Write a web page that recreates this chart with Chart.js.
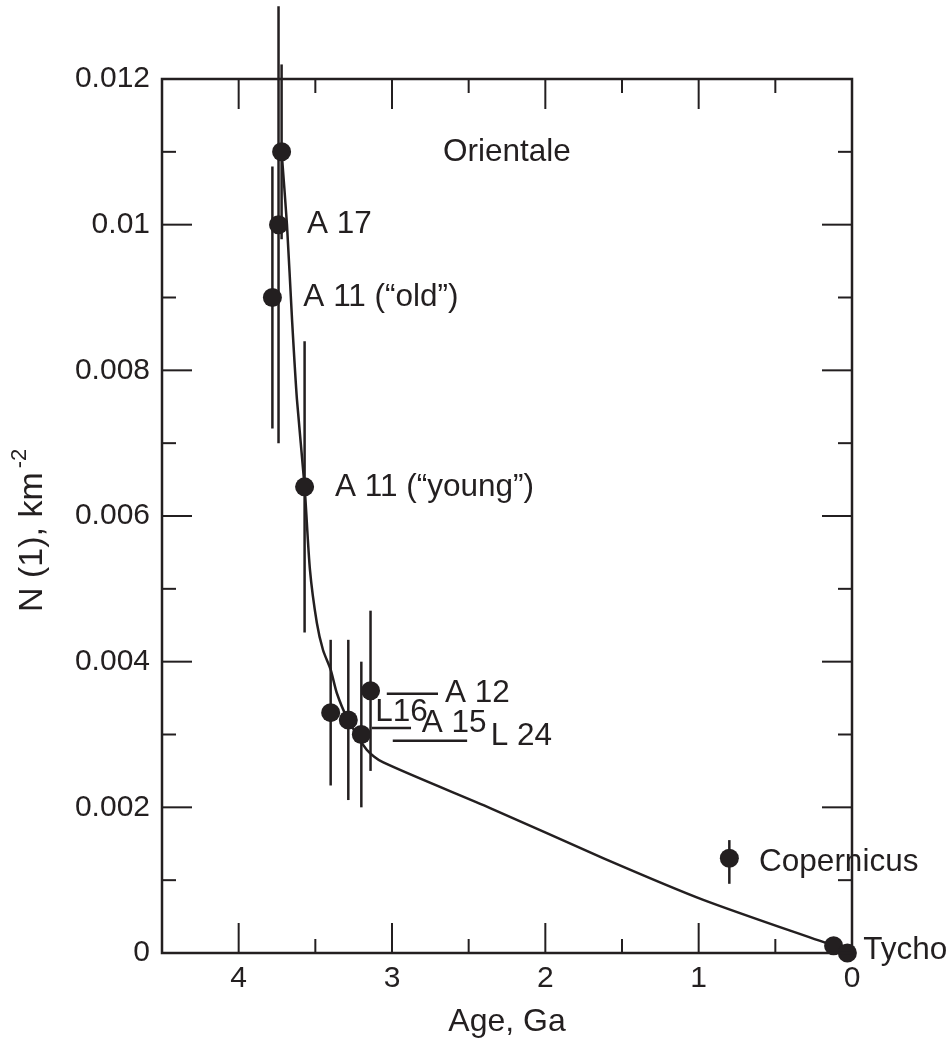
<!DOCTYPE html>
<html>
<head>
<meta charset="utf-8">
<title>N(1) vs age</title>
<script src="https://cdn.jsdelivr.net/npm/chart.js@4.4.1/dist/chart.umd.min.js"></script>
<style>
  html, body { margin: 0; padding: 0; background: #fff; }
</style>
</head>
<body>
<canvas id="chart" width="948" height="1041"></canvas>
<script>
// dated surfaces: age (Ga) and crater density N(1) with error range
const siteAges = [3.72, 3.74, 3.78, 3.57, 3.40, 3.285, 3.20, 3.14, 0.80, 0.12, 0.03];
const siteN = [0.011, 0.010, 0.009, 0.0064, 0.0033, 0.0032, 0.0030, 0.0036, 0.0013, 0.0001, 0];
const errLow = [0.0098, 0.0070, 0.0072, 0.0044, 0.0023, 0.0021, 0.0020, 0.0025, 0.00095, null, null];
const errHigh = [0.0122, 0.0130, 0.0108, 0.0084, 0.0043, 0.0043, 0.0040, 0.0047, 0.00155, null, null];

// fitted chronology curve
const curveAges = [3.72, 3.685, 3.652, 3.62, 3.57, 3.535, 3.49, 3.45, 3.40, 3.36, 3.295, 3.165, 3.06, 2.36, 1.62, 0.97, 0.12];
const curveN = [0.011, 0.0100, 0.0087, 0.0076, 0.0064, 0.00526, 0.00453, 0.00416, 0.00389, 0.00357, 0.00324, 0.00279, 0.00262, 0.00199, 0.00130, 0.00073, 0.0001];

// labels and leader lines
const labelText = ['Orientale', 'A 17', 'A 11 (\u201cold\u201d)', 'A 11 (\u201cyoung\u201d)', 'A 12', 'L16', 'A 15', 'L 24', 'Copernicus', 'Tycho'];
const labelAge = [2.667, 3.554, 3.578, 3.372, 2.654, 3.11, 2.806, 2.356, 0.606, -0.073];
const labelN = [0.011, 0.010, 0.009, 0.0064, 0.00357, 0.0033, 0.00316, 0.00297, 0.00125, 0.00004];
const leaderN = [0.00356, 0.00309, 0.002915];
const leaderFrom = [3.034, 3.132, 2.995];
const leaderTo = [2.70, 2.876, 2.51];

// axis ticks
const xMajorTicks = [0, 1, 2, 3, 4];
const xMinorTicks = [0.5, 1.5, 2.5, 3.5];
const yMajorTicks = [0, 0.002, 0.004, 0.006, 0.008, 0.01, 0.012];
const yMinorTicks = [0.001, 0.003, 0.005, 0.007, 0.009, 0.011];

const yTitle = 'N (1), km';
const yTitleSup = '-2';

const INK = '#231f20';
const FONT = '"Liberation Sans", Arial, sans-serif';

// error bars under the dots
const errorBars = {
    id: 'errorBars',
    beforeDatasetsDraw(chart) {
        const { ctx, scales: { x, y } } = chart;
        ctx.save();
        ctx.strokeStyle = INK;
        ctx.lineWidth = 2.5;
        siteAges.forEach((age, i) => {
            if (errLow[i] == null) return;
            const px = x.getPixelForValue(age);
            ctx.beginPath();
            ctx.moveTo(px, y.getPixelForValue(errLow[i]));
            ctx.lineTo(px, y.getPixelForValue(errHigh[i]));
            ctx.stroke();
        });
        ctx.restore();
    }
};

// frame with inward ticks on all four sides, text labels, y title
const frameAndLabels = {
    id: 'frameAndLabels',
    afterDraw(chart) {
        const { ctx, chartArea: a, scales: { x, y } } = chart;
        ctx.save();
        ctx.strokeStyle = INK;
        ctx.lineWidth = 2;
        const seg = (x1, y1, x2, y2) => {
            ctx.beginPath();
            ctx.moveTo(x1, y1);
            ctx.lineTo(x2, y2);
            ctx.stroke();
        };
        const xTick = (v, len) => {
            const px = x.getPixelForValue(v);
            seg(px, a.bottom, px, a.bottom - len);
            seg(px, a.top, px, a.top + len);
        };
        const yTick = (v, len) => {
            const py = y.getPixelForValue(v);
            seg(a.left, py, a.left + len, py);
            seg(a.right, py, a.right - len, py);
        };
        xMajorTicks.forEach(v => xTick(v, 30));
        xMinorTicks.forEach(v => xTick(v, 14));
        yMajorTicks.forEach(v => yTick(v, 30));
        yMinorTicks.forEach(v => yTick(v, 14));

        ctx.lineWidth = 2.5;
        ctx.strokeRect(a.left, a.top, a.right - a.left, a.bottom - a.top);

        ctx.fillStyle = INK;
        ctx.font = '31.5px ' + FONT;
        ctx.textAlign = 'left';
        ctx.textBaseline = 'middle';
        labelText.forEach((t, i) => {
            ctx.fillText(t, x.getPixelForValue(labelAge[i]), y.getPixelForValue(labelN[i]));
        });

        // rotated y title with raised exponent
        ctx.translate(42, 612);
        ctx.rotate(-Math.PI / 2);
        ctx.textBaseline = 'alphabetic';
        ctx.font = '34px ' + FONT;
        ctx.fillText(yTitle, 0, 0);
        const w = ctx.measureText(yTitle).width;
        ctx.font = '22px ' + FONT;
        ctx.fillText(yTitleSup, w + 4, -16);
        ctx.restore();
    }
};

const leaderSets = leaderN.map((n, i) => ({
    type: 'line',
    data: [{ x: leaderFrom[i], y: n }, { x: leaderTo[i], y: n }],
    borderColor: INK,
    borderWidth: 2.5,
    pointRadius: 0,
    clip: false
}));

new Chart(document.getElementById('chart'), {
    type: 'scatter',
    data: {
        datasets: [
            {
                label: 'Sites',
                data: siteAges.map((a, i) => ({ x: a, y: siteN[i] })),
                backgroundColor: INK,
                borderWidth: 0,
                pointRadius: 9.5,
                clip: false
            },
            ...leaderSets,
            {
                type: 'line',
                label: 'Curve',
                data: curveAges.map((a, i) => ({ x: a, y: curveN[i] })),
                borderColor: INK,
                borderWidth: 2.5,
                pointRadius: 0,
                tension: 0.25,
                fill: false,
                clip: false
            }
        ]
    },
    options: {
        responsive: false,
        animation: false,
        layout: { padding: { left: 15, top: 79, right: 96, bottom: 0 } },
        plugins: {
            legend: { display: false },
            tooltip: { enabled: false }
        },
        scales: {
            x: {
                type: 'linear',
                reverse: true,
                min: 0,
                max: 4.5,
                grid: { display: false, drawTicks: false },
                border: { display: false },
                ticks: {
                    stepSize: 1,
                    includeBounds: false,
                    padding: 8,
                    color: INK,
                    font: { family: FONT, size: 30 },
                    callback: v => String(v)
                },
                title: {
                    display: true,
                    text: 'Age, Ga',
                    color: INK,
                    padding: 0,
                    font: { family: FONT, size: 32 }
                },
                afterFit: s => { s.height = 88; }
            },
            y: {
                type: 'linear',
                min: 0,
                max: 0.012,
                grid: { display: false, drawTicks: false },
                border: { display: false },
                ticks: {
                    stepSize: 0.002,
                    padding: 12,
                    color: INK,
                    font: { family: FONT, size: 30 },
                    callback: v => String(+v.toFixed(3))
                },
                afterFit: s => { s.width = 147; }
            }
        }
    },
    plugins: [errorBars, frameAndLabels]
});
</script>
</body>
</html>
